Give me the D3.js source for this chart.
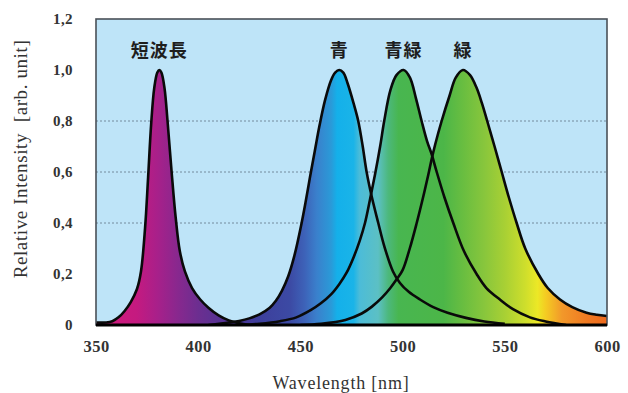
<!DOCTYPE html>
<html>
<head>
<meta charset="utf-8">
<script src="https://cdn.jsdelivr.net/npm/d3@7"></script>
<style>
  html, body { margin: 0; padding: 0; background: #ffffff; }
  svg { display: block; }
</style>
</head>
<body>
<svg id="chart" width="628" height="393"></svg>
<script>
// ---- data ----
const xTicks = [350, 400, 450, 500, 550, 600];
const yTicks = [0, 0.2, 0.4, 0.6, 0.8, 1.0, 1.2];
const gridValues = [0.4, 0.6, 0.8];

const violetWl = [350,355,358,361,364,367,370,372,374,375.5,377,378.5,380,381,382,383.5,385,387,389,391,393.5,397,401,405,410,415,420,425];
const violetI  = [0.01,0.01,0.015,0.03,0.055,0.09,0.14,0.21,0.38,0.58,0.79,0.93,0.99,1.0,0.99,0.93,0.80,0.60,0.42,0.29,0.21,0.145,0.10,0.068,0.038,0.018,0.007,0];

const blueWl = [405,415,420,425,430,435,438,441,444,447,450.6,452.5,454.7,457,459.3,462,465,467,469,471,473,476,478.3,480.5,482.4,485,488.1,491,495.3,498.7,503,508.5,515,522,531,540,550];
const blueI  = [0,0.01,0.016,0.026,0.042,0.068,0.095,0.135,0.19,0.27,0.4,0.48,0.58,0.68,0.78,0.88,0.96,0.99,1.0,0.99,0.95,0.87,0.8,0.7,0.6,0.5,0.4,0.31,0.21,0.165,0.13,0.1,0.07,0.048,0.028,0.014,0.005];

const bgWl = [420,430,440,448,455,460,465,469,472.6,476,479,481.6,484,486.5,489,491,494,497,500.5,503.6,506.5,509.3,512,514.2,516.7,520.5,524.8,530,536.2,541,547.6,554,562.3,570,580];
const bgI  = [0,0.005,0.015,0.03,0.058,0.085,0.12,0.16,0.205,0.265,0.33,0.4,0.49,0.59,0.7,0.8,0.92,0.98,1.0,0.97,0.89,0.8,0.72,0.67,0.6,0.5,0.4,0.29,0.2,0.145,0.1,0.062,0.03,0.014,0];

const greenWl = [450,460,472,480,485,490,494,497,500,503.5,506.9,510,512.6,514.2,516,519.1,523,526,529.5,533,536.2,538.8,541.4,545,548.5,552,555.8,560,566.4,571,577,583,590,595,600];
const greenI  = [0,0.005,0.02,0.045,0.072,0.108,0.145,0.178,0.215,0.3,0.4,0.5,0.59,0.65,0.71,0.8,0.9,0.97,1.0,0.98,0.93,0.87,0.8,0.7,0.6,0.5,0.4,0.3,0.2,0.145,0.1,0.07,0.048,0.04,0.035];

const seriesNames = ["短波長", "青", "青緑", "緑"];
const peakWl = [381, 469, 500.5, 529.5];

// spectrum colour stops (wavelength -> colour)
const specWl  = [350,355,370,380,390,400,410,420,430,445,452,458,465,468,476,479,488,493,498,520,530,540,550,560,566,570,578,590,600];
const specCol = ["#d01a7c","#d01a7c","#c41a80","#a8208a","#88288e","#6c2e90","#583293","#4a3596","#3d3f9c","#3c4aa4","#3d62b8","#3a80cc","#2a9ad8","#14b0ea","#1ab4e8","#4cbcd8","#5cc0c4","#4cb87c","#48b650","#4cb648","#6abe40","#88c63c","#a8d034","#cede2c","#ece826","#f4cc22","#f2982a","#f07a22","#ee6a1e"];

// ---- layout ----
const svg = d3.select("#chart");
const mLeft = 96, mRight = 607, mTop = 19, mBottom = 325;

const x = d3.scaleLinear().domain([350, 600]).range([mLeft, mRight]);
const y = d3.scaleLinear().domain([0, 1.2]).range([mBottom, mTop]);

const defs = svg.append("defs");
const grad = defs.append("linearGradient")
  .attr("id", "spec").attr("gradientUnits", "userSpaceOnUse")
  .attr("x1", x(350)).attr("x2", x(600)).attr("y1", 0).attr("y2", 0);
specWl.forEach((w, i) => {
  grad.append("stop").attr("offset", (w - 350) / 250).attr("stop-color", specCol[i]);
});
defs.append("clipPath").attr("id", "plotclip")
  .append("rect").attr("x", mLeft).attr("y", mTop).attr("width", mRight - mLeft).attr("height", mBottom - mTop);

// background
svg.append("rect").attr("x", mLeft).attr("y", mTop).attr("width", mRight - mLeft).attr("height", mBottom - mTop)
  .attr("fill", "#bee4f8");

// grid
svg.append("g").selectAll("line").data(gridValues).join("line")
  .attr("x1", mLeft).attr("x2", mRight)
  .attr("y1", d => y(d)).attr("y2", d => y(d))
  .attr("stroke", "#5f7486").attr("stroke-width", 0.8).attr("stroke-dasharray", "2,2");

const series = [
  { wl: violetWl, v: violetI },
  { wl: blueWl, v: blueI },
  { wl: bgWl, v: bgI },
  { wl: greenWl, v: greenI }
];

const curve = d3.curveCatmullRom.alpha(0.5);
const area = d3.area().x(d => x(d[0])).y0(y(0)).y1(d => y(d[1])).curve(curve);
const line = d3.line().x(d => x(d[0])).y(d => y(d[1])).curve(curve);

const plot = svg.append("g").attr("clip-path", "url(#plotclip)");
series.forEach(s => {
  const pts = s.wl.map((w, i) => [w, s.v[i]]);
  plot.append("path").datum(pts).attr("d", area).attr("fill", "url(#spec)");
});
series.forEach(s => {
  const pts = s.wl.map((w, i) => [w, s.v[i]]);
  plot.append("path").datum(pts).attr("d", line)
    .attr("fill", "none").attr("stroke", "#0a0a0a").attr("stroke-width", 2.6)
    .attr("stroke-linejoin", "round");
});

// frame
svg.append("rect").attr("x", mLeft).attr("y", mTop).attr("width", mRight - mLeft).attr("height", mBottom - mTop)
  .attr("fill", "none").attr("stroke", "#4a5058").attr("stroke-width", 1.6);
svg.append("line").attr("x1", mLeft).attr("x2", mRight).attr("y1", mBottom).attr("y2", mBottom)
  .attr("stroke", "#000").attr("stroke-width", 3);

// axes
const fmt = d => d === 0 ? "0" : d3.format(".1f")(d).replace(".", ",");
const yAxis = svg.append("g").attr("transform", `translate(${mLeft},0)`)
  .call(d3.axisLeft(y).tickValues(yTicks).tickFormat(fmt).tickSize(0).tickPadding(23));
yAxis.select(".domain").remove();
yAxis.selectAll("text").attr("font-family", "Liberation Serif, serif").attr("font-weight", "bold")
  .attr("font-size", 15).attr("letter-spacing", 0.4).attr("fill", "#333");

const xAxis = svg.append("g").attr("transform", `translate(0,${mBottom})`)
  .call(d3.axisBottom(x).tickValues(xTicks).tickFormat(d3.format("d")).tickSize(0).tickPadding(15));
xAxis.select(".domain").remove();
xAxis.selectAll("text").attr("font-family", "Liberation Serif, serif").attr("font-weight", "bold")
  .attr("font-size", 16.5).attr("letter-spacing", 0.5).attr("fill", "#333");

// titles
svg.append("text").attr("x", 341).attr("y", 389).attr("text-anchor", "middle")
  .attr("font-family", "Liberation Serif, serif").attr("font-size", 18).attr("letter-spacing", 0.8).attr("fill", "#333")
  .text("Wavelength [nm]");
svg.append("text").attr("transform", "translate(27,159) rotate(-90)").attr("text-anchor", "middle")
  .attr("font-family", "Liberation Serif, serif").attr("font-size", 19).attr("letter-spacing", 0.6).attr("fill", "#333")
  .style("white-space", "pre")
  .text("Relative Intensity  [arb. unit]");

// series labels
svg.append("g").selectAll("text").data(seriesNames).join("text")
  .attr("x", (d, i) => x(peakWl[i])).attr("y", 57).attr("text-anchor", "middle")
  .attr("font-family", "Noto Sans CJK JP, sans-serif").attr("font-weight", "bold")
  .attr("font-size", 18).attr("letter-spacing", 1).attr("fill", "#1e1e1e")
  .text(d => d);
</script>
</body>
</html>
